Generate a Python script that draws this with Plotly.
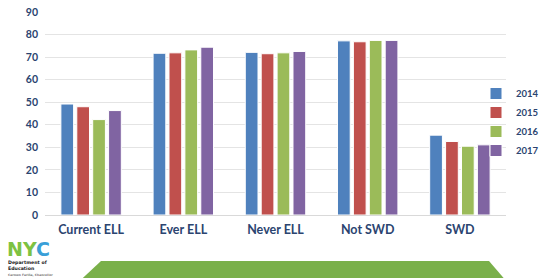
import plotly.graph_objects as go

categories = ["Current ELL", "Ever ELL", "Never ELL", "Not SWD", "SWD"]
years = ["2014", "2015", "2016", "2017"]
v2014 = [49.2, 71.7, 72.1, 77.2, 35.4]
v2015 = [48.0, 71.9, 71.5, 76.8, 32.6]
v2016 = [42.3, 73.2, 71.9, 77.4, 30.5]
v2017 = [46.3, 74.4, 72.5, 77.4, 31.1]
series = [v2014, v2015, v2016, v2017]
colors = ["#4F81BD", "#C0504D", "#9BBB59", "#8064A2"]
y_ticks = [0, 10, 20, 30, 40, 50, 60, 70, 80, 90]

navy = "#2B4470"
W, H = 542, 278
L, R, T, B = 45, 36, 12, 63

fig = go.Figure()
for name, vals, col in zip(years, series, colors):
    fig.add_trace(go.Bar(
        x=categories, y=vals, name=name,
        marker=dict(color=col, line=dict(color="white", width=1)),
    ))

pw = W - L - R
ph = H - T - B
def px2x(px):
    return (px - L) / pw
def py2y(py):
    return (H - B - py) / ph

# decorative green trapezoid at bottom
path = "M {a},{b} L {c},{d} L {e},{f} L {g},{h} Z".format(
    a=px2x(70), b=py2y(290), c=px2x(101), d=py2y(261),
    e=px2x(489), f=py2y(261), g=px2x(514), h=py2y(290))
fig.add_shape(type="path", path=path, xref="paper", yref="paper",
              fillcolor="#7AB04A", line=dict(width=0), layer="above")

# logo text
fig.add_annotation(
    x=px2x(6), y=py2y(261), xref="paper", yref="paper", xanchor="left", yanchor="bottom",
    text="<span style='color:#7DC242'>NY</span><span style='color:#3A9FD8'>C</span>",
    showarrow=False, borderpad=0, font=dict(family="DejaVu Sans", size=19, weight=900))
fig.add_annotation(
    x=px2x(7), y=py2y(258.5), xref="paper", yref="paper", xanchor="left", yanchor="top",
    text="Department of<br>Education<br><span style='font-size:3px;color:#777'>Carmen Fariña, Chancellor</span>",
    showarrow=False, align="left", borderpad=0,
    font=dict(family="DejaVu Sans", size=4.7, color="#222", weight="bold"))

fig.update_layout(
    width=W, height=H,
    margin=dict(l=L, r=R, t=T, b=B, pad=0, autoexpand=False),
    paper_bgcolor="white", plot_bgcolor="white",
    barmode="group", bargap=0.31, bargroupgap=0.2,
    font=dict(family="Lato", color=navy),
    showlegend=True,
    legend=dict(x=px2x(476), y=py2y(122), xanchor="left", yanchor="middle",
                font=dict(size=9.5, color=navy, weight="bold"),
                bgcolor="rgba(0,0,0,0)", borderwidth=0, itemwidth=30,
                tracegroupgap=0),
    xaxis=dict(showgrid=False, showline=False, zeroline=False, ticks="",
               tickfont=dict(size=12.5, color=navy, weight="bold"),
               ticklabelstandoff=5, automargin=False),
    yaxis=dict(range=[0, 90], tickvals=y_ticks, showgrid=True, gridcolor="#E4E4E4",
               gridwidth=1, zeroline=True, zerolinecolor="#D9D9D9", zerolinewidth=1,
               showline=False, ticks="", automargin=False,
               tickfont=dict(size=10.5, color=navy, weight="bold"),
               ticklabelstandoff=6),
)

fig.write_html("out.html", config={"displayModeBar": False},
               post_script="document.body.style.margin='0';document.body.style.overflow='hidden';")
